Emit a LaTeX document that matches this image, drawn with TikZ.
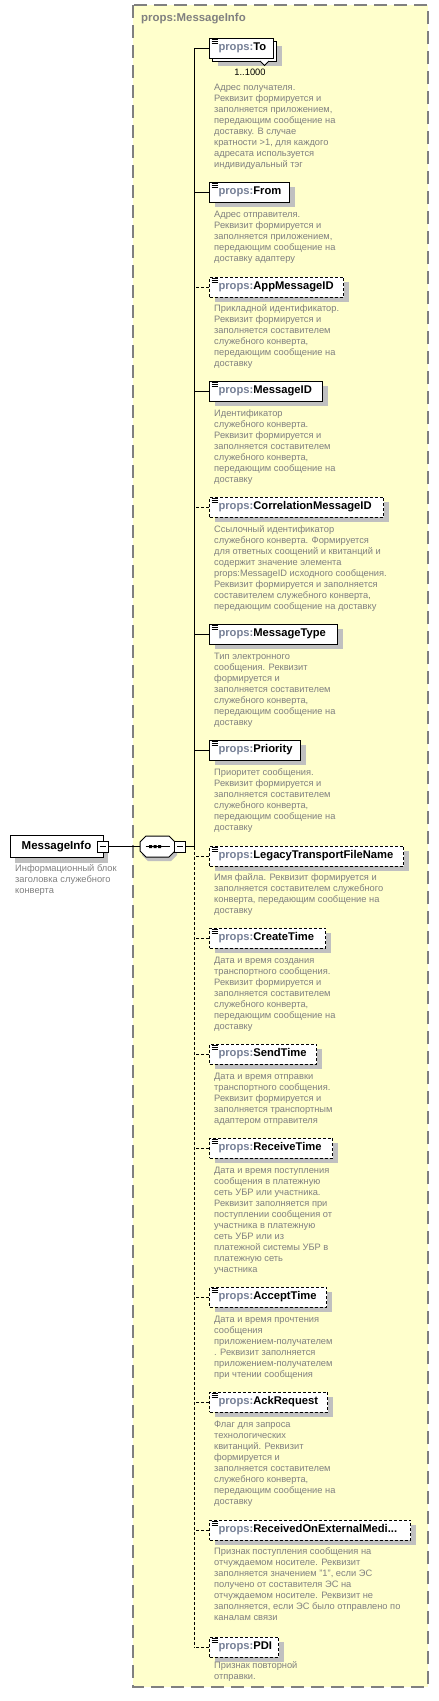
\documentclass[tikz,border=0pt]{standalone}
\usepackage{fontspec}
\setmainfont{Liberation Sans}
\usetikzlibrary{shadows}

\definecolor{boxyellow}{RGB}{255,255,204}
\definecolor{framegray}{RGB}{128,128,128}
\definecolor{descgray}{RGB}{128,128,128}
\definecolor{pfxgray}{RGB}{118,128,150}
\definecolor{shadowgray}{RGB}{192,192,192}

\newcommand{\descfont}{\fontsize{9.3}{11}\selectfont}
\newcommand{\elabel}[2]{\makebox[#1pt][l]{\hspace{9pt}\textcolor{pfxgray}{props:}#2}}

\begin{document}
\begin{tikzpicture}[x=1pt,y=-1pt]
    \tikzstyle{box}=[draw,fill=white,line width=1pt,inner sep=0,minimum height=20,anchor=west,
      font=\fontsize{11.2}{13}\selectfont\bfseries,
      path picture={\foreach \d in {1.5,3.5,5.5}
        \draw[solid,line width=0.9pt] ([xshift=2pt,yshift=-\d pt]path picture bounding box.north west) -- ++(6pt,0pt);}]
    \tikzstyle{elem}=[box,drop shadow={shadow xshift=5pt,shadow yshift=-5pt,fill=shadowgray,opacity=1}]
    \tikzstyle{opt}=[elem,dash pattern=on 3pt off 2pt]
    \tikzstyle{desc}=[anchor=north west,inner sep=0,align=left,font=\descfont,text=descgray]
    \tikzstyle{minus}=[draw,fill=white,line width=1pt,minimum size=11,inner sep=0,
      path picture={\draw[line width=1pt] ([xshift=2.5pt]path picture bounding box.west) -- ([xshift=-2.5pt]path picture bounding box.east);}]
    \tikzstyle{link}=[line width=1pt]
    \tikzstyle{optlink}=[link,dash pattern=on 3pt off 2pt]

    \useasboundingbox (0,0) rectangle (439,1701);

    % group of props:MessageInfo
    \path[fill=boxyellow,draw=framegray,line width=1.5pt,dash pattern=on 13pt off 7pt] (133,5) rectangle (428,1687);
    \node (title) at (141,19) [anchor=west,inner sep=0,font=\fontsize{11.4}{13}\selectfont\bfseries,text=framegray] {props:MessageInfo};

    % root element and sequence
    \node (MI) at (56.5,846.5) [draw,fill=white,line width=1pt,minimum width=93,minimum height=22,inner sep=0,
      font=\fontsize{11.5}{13}\selectfont\bfseries,
      drop shadow={shadow xshift=5pt,shadow yshift=-5pt,fill=shadowgray,opacity=1}] {MessageInfo};
    \node (MIminus) at (102.5,846.5) [minus] {};
    \node (MIdesc) at (15,864.5) [desc] {Информационный блок\\заголовка служебного\\конверта};

    \node (seq) at (157.5,846.5) [minimum width=35,minimum height=21,inner sep=0] {};
    \fill[shadowgray,shift={(2,4)}] (140,842) -- (146,836) -- (169,836) -- (175,842) -- (175,851) -- (169,857) -- (146,857) -- (140,851) -- cycle;
    \draw[fill=white,line width=1pt] (140,842) -- (146,836) -- (169,836) -- (175,842) -- (175,851) -- (169,857) -- (146,857) -- (140,851) -- cycle;
    \draw[line width=1pt] ([xshift=-12pt]seq.center) -- ([xshift=12pt]seq.center);
    \fill ([xshift=-7pt]seq.center) +(-1.5,-1.5) rectangle +(1.5,1.5)
          ([xshift=-2.5pt]seq.center) +(-1.5,-1.5) rectangle +(1.5,1.5)
          ([xshift=2pt]seq.center) +(-1.5,-1.5) rectangle +(1.5,1.5);
    \node (seqminus) at (180,846.5) [minus] {};
    \coordinate (spine) at (194,846.5);

    % child elements
    \node (ToBack) at (212,51) [elem,minimum width=64] {};
    \node (To) at (209,48) [box] {\elabel{64}{To}};
    \draw[fill=white,line width=1pt] (260,61) -- (264.5,65.5) -- (269,61);
    \node (ToCard) at (250,72) [font=\descfont] {1..1000};
    \node (ToDesc) at (214,83.5) [desc] {Адрес получателя.\\Реквизит формируется и\\заполняется приложением,\\передающим сообщение на\\доставку. В случае\\кратности >1, для каждого\\адресата используется\\индивидуальный тэг};

    \node (From) at (209,192) [elem] {\elabel{80}{From}};
    \node (FromDesc) at (214,210.5) [desc] {Адрес отправителя.\\Реквизит формируется и\\заполняется приложением,\\передающим сообщение на\\доставку адаптеру};

    \node (AppMessageID) at (209,287) [opt] {\elabel{134}{AppMessageID}};
    \node (AppMessageIDDesc) at (214,304.5) [desc] {Прикладной идентификатор.\\Реквизит формируется и\\заполняется составителем\\служебного конверта,\\передающим сообщение на\\доставку};

    \node (MessageID) at (209,391) [elem] {\elabel{113}{MessageID}};
    \node (MessageIDDesc) at (214,409.5) [desc] {Идентификатор\\служебного конверта.\\Реквизит формируется и\\заполняется составителем\\служебного конверта,\\передающим сообщение на\\доставку};

    \node (CorrelationMessageID) at (209,507) [opt] {\elabel{174}{CorrelationMessageID}};
    \node (CorrelationMessageIDDesc) at (214,525.5) [desc] {Ссылочный идентификатор\\служебного конверта. Формируется\\для ответных соощений и квитанций и\\содержит значение элемента\\props:MessageID исходного сообщения.\\Реквизит формируется и заполняется\\составителем служебного конверта,\\передающим сообщение на доставку};

    \node (MessageType) at (209,634) [elem] {\elabel{128}{MessageType}};
    \node (MessageTypeDesc) at (214,652.5) [desc] {Тип электронного\\сообщения. Реквизит\\формируется и\\заполняется составителем\\служебного конверта,\\передающим сообщение на\\доставку};

    \node (Priority) at (209,750) [elem] {\elabel{91}{Priority}};
    \node (PriorityDesc) at (214,768.5) [desc] {Приоритет сообщения.\\Реквизит формируется и\\заполняется составителем\\служебного конверта,\\передающим сообщение на\\доставку};

    \node (LegacyTransportFileName) at (209,856) [opt] {\elabel{194}{LegacyTransportFileName}};
    \node (LegacyTransportFileNameDesc) at (214,873.5) [desc] {Имя файла. Реквизит формируется и\\заполняется составителем служебного\\конверта, передающим сообщение на\\доставку};

    \node (CreateTime) at (209,938) [opt] {\elabel{116}{CreateTime}};
    \node (CreateTimeDesc) at (214,956.5) [desc] {Дата и время создания\\транспортного сообщения.\\Реквизит формируется и\\заполняется составителем\\служебного конверта,\\передающим сообщение на\\доставку};

    \node (SendTime) at (209,1054) [opt] {\elabel{107}{SendTime}};
    \node (SendTimeDesc) at (214,1072.5) [desc] {Дата и время отправки\\транспортного сообщения.\\Реквизит формируется и\\заполняется транспортным\\адаптером отправителя};

    \node (ReceiveTime) at (209,1148) [opt] {\elabel{123}{ReceiveTime}};
    \node (ReceiveTimeDesc) at (214,1166.5) [desc] {Дата и время поступления\\сообщения в платежную\\сеть УБР или участника.\\Реквизит заполняется при\\поступлении сообщения от\\участника в платежную\\сеть УБР или из\\платежной системы УБР в\\платежную сеть\\участника};

    \node (AcceptTime) at (209,1297) [opt] {\elabel{117}{AcceptTime}};
    \node (AcceptTimeDesc) at (214,1315.5) [desc] {Дата и время прочтения\\сообщения\\приложением-получателем\\. Реквизит заполняется\\приложением-получателем\\при чтении сообщения};

    \node (AckRequest) at (209,1402) [opt] {\elabel{118}{AckRequest}};
    \node (AckRequestDesc) at (214,1420.5) [desc] {Флаг для запроса\\технологических\\квитанций. Реквизит\\формируется и\\заполняется составителем\\служебного конверта,\\передающим сообщение на\\доставку};

    \node (ReceivedOnExternalMedia) at (209,1530) [opt] {\elabel{201}{ReceivedOnExternalMedi...}};
    \node (ReceivedOnExternalMediaDesc) at (214,1547.5) [desc] {Признак поступления сообщения на\\отчуждаемом носителе. Реквизит\\заполняется значением "1", если ЭС\\получено от составителя ЭС на\\отчуждаемом носителе. Реквизит не\\заполняется, если ЭС было отправлено по\\каналам связи};

    \node (PDI) at (209,1647) [opt] {\elabel{69}{PDI}};
    \node (PDIDesc) at (214,1661.5) [desc] {Признак повторной\\отправки.};

    % connectors
    \draw[link] (MIminus.east) -- (seq.west);
    \draw[link] (seqminus.east) -- (spine);
    \draw[link] (To.west -| spine) -- (spine);
    \draw[optlink] (spine) -- (PDI.west -| spine);
    \draw[link] (To.west) -- (To.west -| spine);
    \draw[link] (From.west) -- (From.west -| spine);
    \draw[optlink] (AppMessageID.west) -- (AppMessageID.west -| spine);
    \draw[link] (MessageID.west) -- (MessageID.west -| spine);
    \draw[optlink] (CorrelationMessageID.west) -- (CorrelationMessageID.west -| spine);
    \draw[link] (MessageType.west) -- (MessageType.west -| spine);
    \draw[link] (Priority.west) -- (Priority.west -| spine);
    \draw[optlink] (LegacyTransportFileName.west) -- (LegacyTransportFileName.west -| spine);
    \draw[optlink] (CreateTime.west) -- (CreateTime.west -| spine);
    \draw[optlink] (SendTime.west) -- (SendTime.west -| spine);
    \draw[optlink] (ReceiveTime.west) -- (ReceiveTime.west -| spine);
    \draw[optlink] (AcceptTime.west) -- (AcceptTime.west -| spine);
    \draw[optlink] (AckRequest.west) -- (AckRequest.west -| spine);
    \draw[optlink] (ReceivedOnExternalMedia.west) -- (ReceivedOnExternalMedia.west -| spine);
    \draw[optlink] (PDI.west) -- (PDI.west -| spine);
\end{tikzpicture}
\end{document}
